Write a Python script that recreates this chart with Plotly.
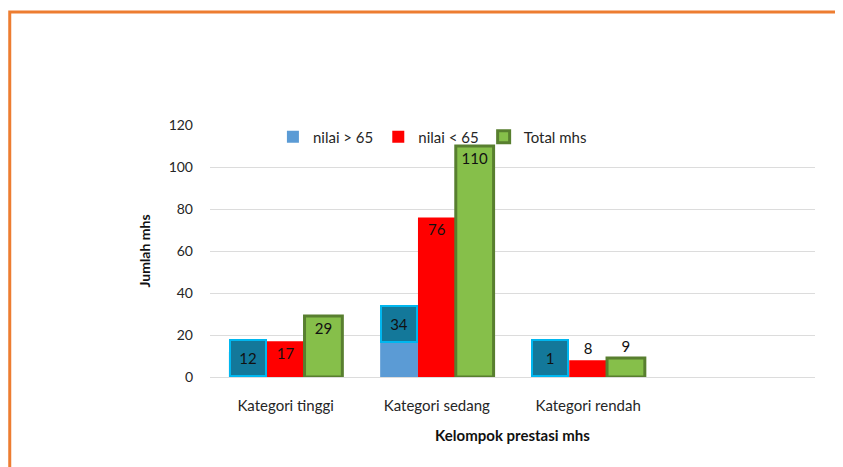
import plotly.graph_objects as go

categories = ["Kategori tinggi", "Kategori sedang", "Kategori rendah"]
series_names = ["nilai > 65", "nilai < 65", "Total mhs"]
nilai_atas = [12, 34, 1]
nilai_bawah = [17, 76, 8]
total_mhs = [29, 110, 9]

FONT = "Lato, 'Open Sans', sans-serif"
BLUE = "#5b9bd5"
RED = "#ff0000"
GREEN = "#86bf4a"
GREEN_EDGE = "#587f2f"

fig = go.Figure()

fig.add_trace(go.Bar(
    x=categories, y=nilai_atas, name=series_names[0],
    marker=dict(color=BLUE, line=dict(width=0)),
))
fig.add_trace(go.Bar(
    x=categories, y=nilai_bawah, name=series_names[1],
    marker=dict(color=RED, line=dict(width=0)),
    text=nilai_bawah,
    textposition=["inside" if v > 12 else "outside" for v in nilai_bawah],
    insidetextanchor="end", constraintext="none",
    textfont=dict(family=FONT, size=15, color="#111111"),
))
fig.add_trace(go.Bar(
    x=categories, y=total_mhs, name=series_names[2],
    marker=dict(color=GREEN, line=dict(width=3, color=GREEN_EDGE)),
    text=total_mhs,
    textposition=["inside" if v > 12 else "outside" for v in total_mhs],
    insidetextanchor="end", constraintext="none",
    textfont=dict(family=FONT, size=15, color="#111111"),
))

# boxed data labels of the first series
for c, v in zip(categories, nilai_atas):
    fig.add_annotation(
        x=c, y=max(v - 18, 0), xref="x", yref="y",
        xshift=-37.8, yanchor="bottom",
        text=str(v), showarrow=False,
        width=32, height=32,
        bgcolor="#13789a", bordercolor="#00b7ef", borderwidth=2,
        font=dict(family=FONT, size=15, color="#111111"),
    )

# orange frame around the slide
fig.add_shape(
    type="path", xref="paper", yref="paper",
    path="M -0.331 -0.5 L -0.331 1.448 L 1.2 1.448",
    line=dict(color="#ed7d31", width=3),
)

fig.update_layout(
    width=843, height=467,
    margin=dict(l=202, r=36, t=117, b=98),
    paper_bgcolor="white", plot_bgcolor="white",
    barmode="group", bargap=0.25, bargroupgap=0,
    font=dict(family=FONT, size=14, color="#262626"),
    showlegend=True,
    legend=dict(
        orientation="h", x=0.104, y=0.952, xanchor="left", yanchor="middle",
        bgcolor="rgba(0,0,0,0)", font=dict(size=15, color="#262626"),
        itemwidth=30, tracegroupgap=0,
    ),
    xaxis=dict(
        range=[-0.5, 3.5], showgrid=False, showline=False, zeroline=False,
        ticks="", ticklabelstandoff=18,
        tickfont=dict(size=15, color="#262626"),
        title=dict(text="<b>Kelompok prestasi mhs</b>", standoff=17,
                   font=dict(size=15, color="#111111")),
        automargin=False,
    ),
    yaxis=dict(
        range=[0, 120], dtick=20, showgrid=True, gridcolor="#dcdcdc", gridwidth=1,
        zeroline=True, zerolinecolor="#dcdcdc", zerolinewidth=1, showline=False,
        ticks="", ticklabelstandoff=16,
        tickfont=dict(size=14, color="#262626"),
        title=dict(text="<b>Jumlah mhs</b>", standoff=14,
                   font=dict(size=14, color="#111111")),
        automargin=False,
    ),
)

fig.write_html("out.html")
